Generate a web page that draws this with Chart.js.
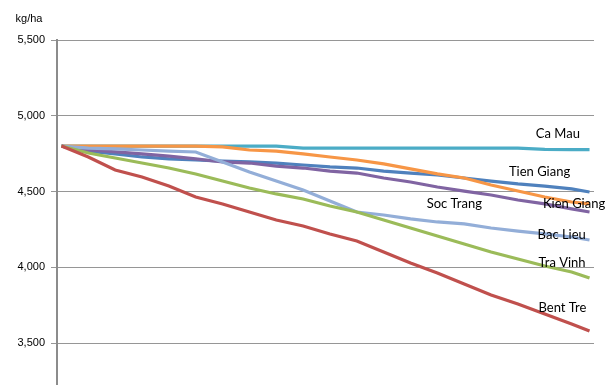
<!DOCTYPE html>
<html>
<head>
<meta charset="utf-8">
<script src="https://cdn.jsdelivr.net/npm/chart.js@4/dist/chart.umd.min.js"></script>
<style>
  html, body { margin: 0; padding: 0; background: #fff; overflow: hidden; }
  #wrap { width: 605px; height: 385px; position: relative; }
</style>
</head>
<body>
<div id="wrap"><canvas id="c" width="605" height="385"></canvas></div>
<script>
// Projection periods (index along the horizontal axis)
const periods = [0, 3, 6, 9, 12, 15, 18, 21, 24, 27, 30, 33, 36, 39, 42, 45, 48, 51, 54, 57, 59];

// Rice yield by province, kg/ha
const caMau     = [4800, 4800, 4800, 4800, 4800, 4800, 4800, 4800, 4800, 4787, 4787, 4787, 4787, 4787, 4787, 4787, 4787, 4787, 4778, 4777, 4777];
const tienGiang = [4800, 4767, 4748, 4728, 4715, 4708, 4701, 4695, 4688, 4675, 4662, 4655, 4635, 4622, 4609, 4589, 4569, 4550, 4536, 4517, 4497];
const socTrang  = [4800, 4800, 4800, 4800, 4800, 4800, 4794, 4774, 4767, 4748, 4728, 4708, 4682, 4649, 4616, 4589, 4543, 4503, 4464, 4431, 4418];
const kienGiang = [4800, 4774, 4761, 4748, 4734, 4715, 4695, 4688, 4668, 4655, 4635, 4622, 4589, 4563, 4530, 4503, 4477, 4444, 4418, 4385, 4365];
const bacLieu   = [4800, 4787, 4781, 4774, 4767, 4761, 4695, 4629, 4569, 4510, 4437, 4365, 4345, 4319, 4299, 4286, 4259, 4239, 4220, 4200, 4180];
const traVinh   = [4800, 4754, 4721, 4688, 4655, 4616, 4569, 4523, 4484, 4451, 4404, 4365, 4312, 4259, 4206, 4154, 4101, 4055, 4008, 3969, 3929];
const bentTre   = [4800, 4728, 4642, 4596, 4536, 4464, 4418, 4365, 4312, 4272, 4220, 4173, 4101, 4028, 3962, 3890, 3817, 3758, 3692, 3626, 3579];

const yTicks = [3500, 4000, 4500, 5000, 5500];
const unitLabel = 'kg/ha';

// Series names and where their names are written (period, kg/ha)
const seriesNames = ['Ca Mau', 'Tien Giang', 'Soc Trang', 'Kien Giang', 'Bac Lieu', 'Tra Vinh', 'Bent Tre'];
const labelSpots = [
  { text: 'Ca Mau',     at: 53.0, val: 4880 },
  { text: 'Tien Giang', at: 50.0, val: 4629 },
  { text: 'Kien Giang', at: 53.8, val: 4418 },
  { text: 'Soc Trang',  at: 40.8, val: 4418 },
  { text: 'Bac Lieu',   at: 53.2, val: 4213 },
  { text: 'Tra Vinh',   at: 53.3, val: 4028 },
  { text: 'Bent Tre',   at: 53.3, val: 3731 }
];

const colors = ['#4BACC6', '#4F81BD', '#F79646', '#8064A2', '#93AED8', '#9BBB59', '#C0504D'];
const seriesData = [caMau, tienGiang, socTrang, kienGiang, bacLieu, traVinh, bentTre];

const toPoints = arr => arr.map((v, i) => ({ x: periods[i], y: v }));

// Draws the unit caption and the series names
const annotations = {
  id: 'annotations',
  afterDatasetsDraw(chart) {
    const { ctx, scales } = chart;
    ctx.save();
    ctx.fillStyle = '#000';
    ctx.font = '11px "Liberation Sans", Arial, sans-serif';
    ctx.textAlign = 'center';
    ctx.textBaseline = 'middle';
    ctx.fillText(unitLabel, 29, 19);
    ctx.font = '13px Lato, "Open Sans", sans-serif';
    ctx.textAlign = 'left';
    labelSpots.forEach(l => {
      ctx.fillText(l.text, scales.x.getPixelForValue(l.at), scales.y.getPixelForValue(l.val));
    });
    ctx.restore();
  }
};

new Chart(document.getElementById('c'), {
  type: 'line',
  data: {
    datasets: seriesData.map((d, i) => ({
      label: seriesNames[i],
      data: toPoints(d),
      borderColor: colors[i],
      backgroundColor: colors[i],
      borderWidth: 3.2,
      pointRadius: 0,
      tension: 0,
      fill: false
    })).reverse()
  },
  options: {
    responsive: false,
    animation: false,
    layout: { padding: { top: 40, right: 11, left: 0, bottom: 0 } },
    plugins: { legend: { display: false }, tooltip: { enabled: false } },
    scales: {
      x: {
        type: 'linear',
        min: -0.5,
        max: 59.5,
        display: false
      },
      y: {
        type: 'linear',
        min: 3223,
        max: 5500,
        afterBuildTicks: s => { s.ticks = yTicks.map(v => ({ value: v })); },
        afterFit: s => { s.width = 57; s.paddingTop = 0; s.paddingBottom = 0; },
        ticks: {
          color: '#000',
          padding: 6,
          font: { family: '"Liberation Sans", Arial, sans-serif', size: 11 },
          callback: v => v.toLocaleString('en-US')
        },
        grid: {
          color: '#969696',
          lineWidth: 1,
          tickLength: 6,
          drawTicks: true
        },
        border: { color: '#8c8c8c', width: 2 }
      }
    }
  },
  plugins: [annotations]
});
</script>
</body>
</html>
